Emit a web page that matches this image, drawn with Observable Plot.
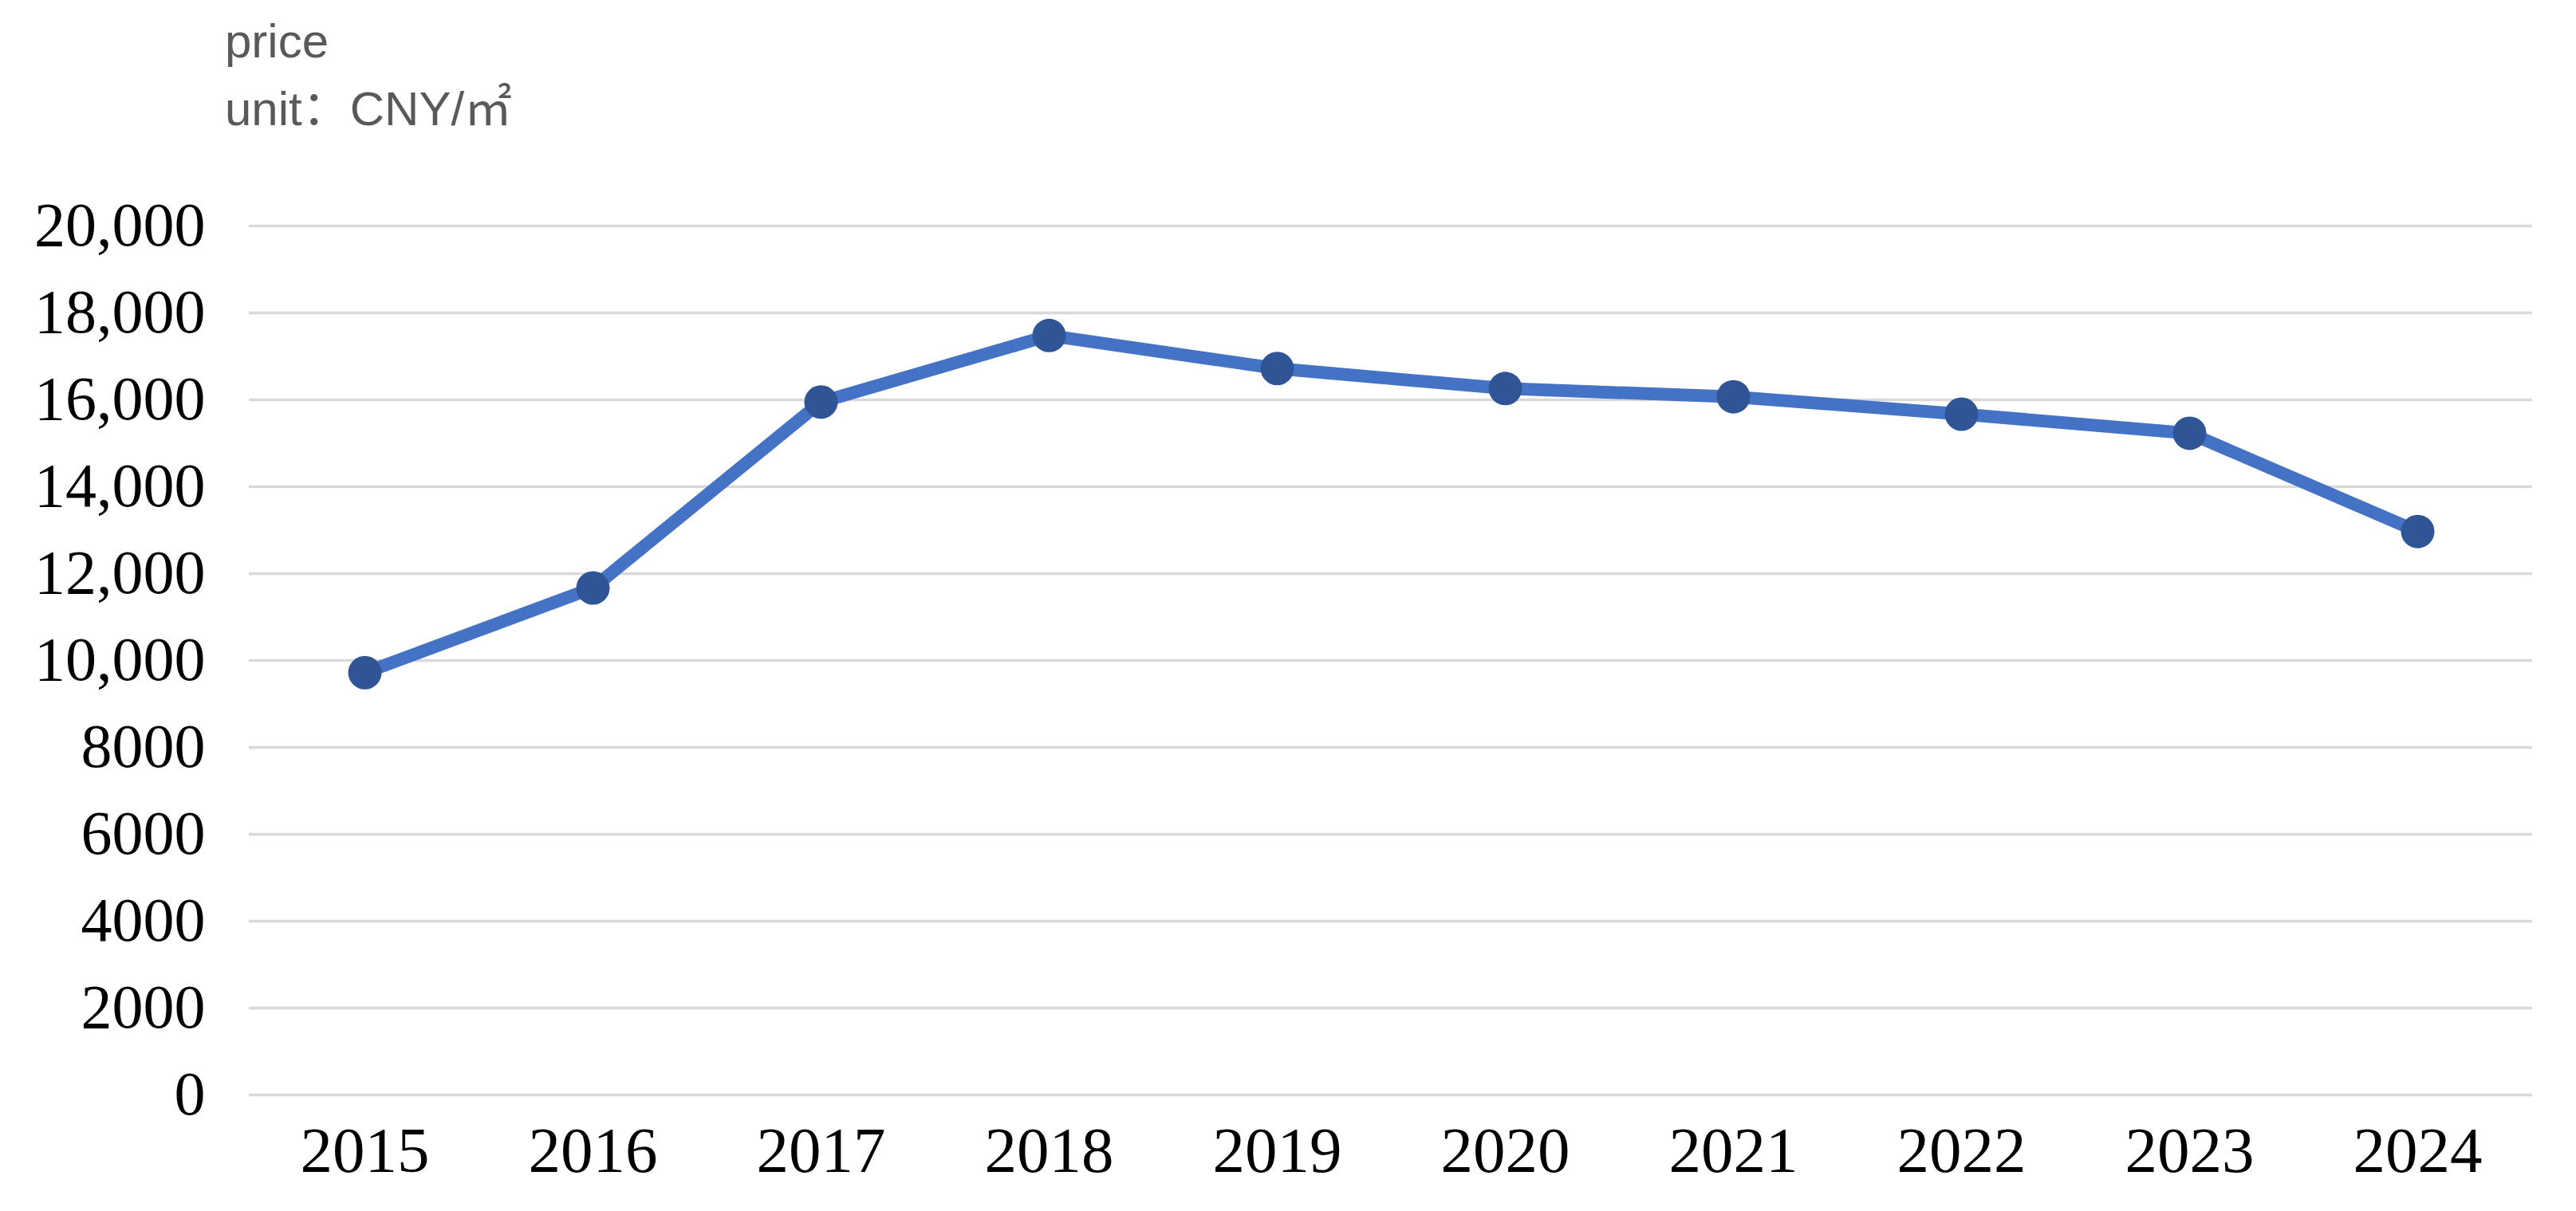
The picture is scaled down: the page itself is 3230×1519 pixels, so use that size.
<!DOCTYPE html>
<html>
<head>
<meta charset="utf-8">
<script src="https://cdn.jsdelivr.net/npm/d3@7"></script>
<script src="https://cdn.jsdelivr.net/npm/@observablehq/plot@0.6"></script>
<style>
  html, body { margin: 0; padding: 0; background: #ffffff; }
  #wrap { width: 3230px; height: 1519px; position: relative; overflow: hidden; }
  #titles { position: absolute; left: 282px; top: 9px; font-family: "Liberation Sans", Arial, "Noto Sans CJK SC", sans-serif;
            font-size: 60px; line-height: 85px; color: #595959; }
  #chart { position: absolute; left: 0; top: 180px; }
</style>
</head>
<body>
<div id="wrap">
  <div id="titles"><div>price</div><div>unit：CNY/㎡</div></div>
  <div id="chart"></div>
</div>
<script>
const years = ["2015","2016","2017","2018","2019","2020","2021","2022","2023","2024"];
const prices = [9720, 11670, 15950, 17480, 16720, 16260, 16070, 15670, 15230, 12970];
const yTicks = [0, 2000, 4000, 6000, 8000, 10000, 12000, 14000, 16000, 18000, 20000];

const data = years.map((y, i) => ({year: y, price: prices[i]}));
const fmt = d => d >= 10000 ? d3.format(",")(d) : String(d);

const chart = Plot.plot({
  width: 3230,
  height: 1339,
  marginTop: 103,
  marginBottom: 146,
  marginLeft: 312,
  marginRight: 55,
  style: {background: "#ffffff", overflow: "visible"},
  x: {type: "point", domain: years, padding: 0.5},
  y: {domain: [0, 20000]},
  marks: [
    Plot.gridY(yTicks, {stroke: "#d9d9d9", strokeOpacity: 1, strokeWidth: 3.5}),
    Plot.axisY(yTicks, {tickSize: 0, tickPadding: 55, tickFormat: fmt, fontSize: 78,
      fontFamily: "'Liberation Serif', 'Times New Roman', serif", fill: "#000000", label: null}),
    Plot.axisX(years, {tickSize: 0, tickPadding: 39, fontSize: 81,
      fontFamily: "'Liberation Serif', 'Times New Roman', serif", fill: "#000000", label: null}),
    Plot.line(data, {x: "year", y: "price", stroke: "#4472C4", strokeWidth: 16, strokeLinejoin: "round", strokeLinecap: "round"}),
    Plot.dot(data, {x: "year", y: "price", r: 21, fill: "#2F5597", stroke: "none"})
  ]
});
document.getElementById("chart").appendChild(chart);
</script>
</body>
</html>
